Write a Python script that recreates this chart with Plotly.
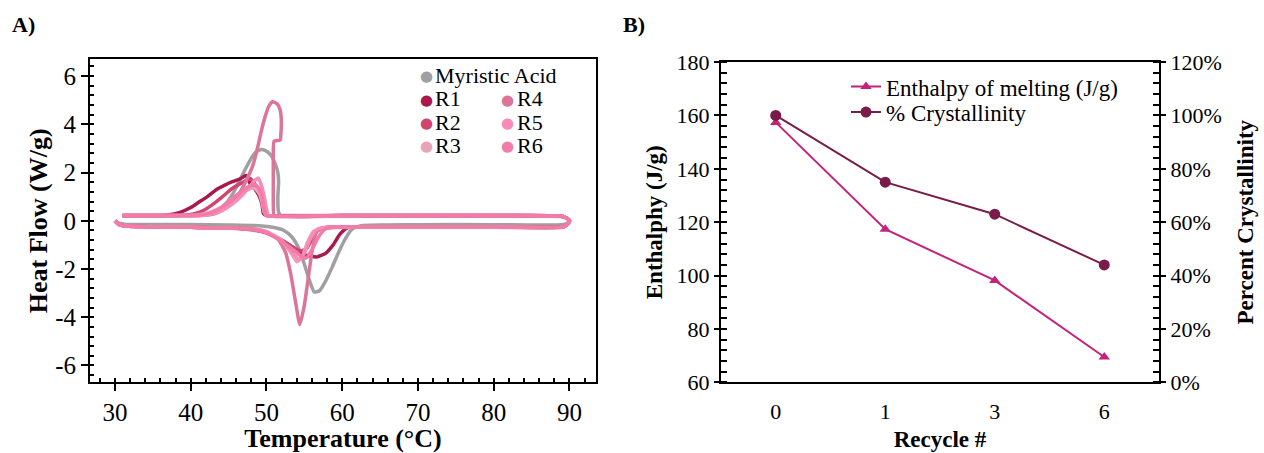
import plotly.graph_objects as go

W, H = 1264, 453

# ---------------- Panel A: DSC curves (heating then cooling) ----------------
MA_heat_T = [30.0, 30.5, 31.5, 35, 40, 45, 49, 51, 52.3, 53.3, 54.2, 55.0, 55.7, 56.3, 57.0, 57.8, 58.7, 59.6, 60.5, 61.3, 62.5, 70, 80, 89.0, 89.7, 90.0]
MA_heat_HF = [0.0, -0.1, -0.15, -0.15, -0.15, -0.17, -0.2, -0.28, -0.4, -0.65, -1.1, -1.8, -2.5, -2.95, -2.9, -2.5, -1.9, -1.25, -0.7, -0.35, -0.2, -0.16, -0.16, -0.16, -0.1, 0.0]
MA_cool_T = [89.6, 88.8, 80, 70, 60, 52.0, 51.6, 51.5, 51.6, 51.5, 51.1, 50.5, 49.8, 49.2, 48.6, 48.0, 47.3, 46.5, 45.6, 44.6, 43.6, 42.5, 40, 35, 31.0]
MA_cool_HF = [0.12, 0.18, 0.2, 0.2, 0.2, 0.2, 0.35, 1.0, 1.6, 2.0, 2.4, 2.75, 2.92, 2.95, 2.85, 2.6, 2.2, 1.7, 1.15, 0.7, 0.42, 0.27, 0.21, 0.2, 0.2]

R1_heat_T = [30.0, 30.5, 31.5, 35, 40, 45, 48, 50, 52, 53.5, 55, 56.6, 57.8, 58.8, 59.7, 60.6, 62, 70, 80, 89.2, 89.8, 90.0]
R1_heat_HF = [0.0, -0.15, -0.22, -0.25, -0.27, -0.3, -0.35, -0.5, -0.8, -1.1, -1.4, -1.5, -1.35, -1.0, -0.55, -0.3, -0.25, -0.25, -0.25, -0.25, -0.12, 0.0]
R1_cool_T = [89.6, 88.8, 80, 70, 60, 50.0, 49.6, 49.4, 49.0, 48.5, 47.9, 47.3, 46.6, 45.5, 44.5, 43.4, 42.2, 41.2, 40.0, 38.6, 37, 35, 31.0]
R1_cool_HF = [0.12, 0.2, 0.22, 0.22, 0.22, 0.22, 0.3, 0.7, 1.05, 1.3, 1.5, 1.88, 1.75, 1.62, 1.48, 1.3, 1.0, 0.8, 0.55, 0.35, 0.24, 0.22, 0.22]

R2_heat_T = [30.0, 30.5, 31.5, 35, 40, 45, 48, 50, 52, 53.5, 54.5, 55.3, 56.0, 56.8, 58, 65, 80, 89.2, 89.8, 90.0]
R2_heat_HF = [0.0, -0.15, -0.22, -0.25, -0.27, -0.3, -0.35, -0.5, -0.8, -1.1, -1.25, -1.15, -0.75, -0.4, -0.28, -0.25, -0.25, -0.25, -0.12, 0.0]
R2_cool_T = [89.6, 88.8, 80, 70, 60, 50.2, 49.8, 49.5, 49.0, 48.5, 47.9, 47.2, 46.3, 45.3, 44.2, 43.0, 41.8, 40.5, 39, 36, 31.0]
R2_cool_HF = [0.12, 0.2, 0.22, 0.22, 0.22, 0.22, 0.35, 0.8, 1.2, 1.5, 1.75, 1.65, 1.5, 1.3, 1.0, 0.7, 0.45, 0.3, 0.23, 0.22, 0.22]

R3_heat_T = [30.0, 30.5, 31.5, 35, 40, 45, 48, 50, 52, 53.2, 54.0, 54.7, 55.4, 56.2, 57.5, 65, 80, 89.2, 89.8, 90.0]
R3_heat_HF = [0.0, -0.15, -0.22, -0.25, -0.27, -0.3, -0.33, -0.45, -0.8, -1.3, -1.7, -1.5, -0.9, -0.45, -0.3, -0.27, -0.27, -0.27, -0.12, 0.0]
R3_cool_T = [89.6, 88.8, 80, 70, 60, 50.0, 49.7, 49.4, 49.0, 48.4, 47.6, 46.6, 45.5, 44.3, 43.0, 41.5, 39.5, 35, 31.0]
R3_cool_HF = [0.12, 0.2, 0.22, 0.22, 0.22, 0.22, 0.35, 0.8, 1.15, 1.35, 1.3, 1.1, 0.85, 0.6, 0.4, 0.27, 0.22, 0.22, 0.22]

R4_heat_T = [30.0, 30.5, 31.5, 35, 40, 45, 48, 50, 51.5, 52.5, 53.2, 53.8, 54.4, 55.0, 55.5, 56.0, 56.6, 57.5, 59, 65, 80, 89.2, 89.8, 90.0]
R4_heat_HF = [0.0, -0.15, -0.22, -0.25, -0.27, -0.3, -0.38, -0.5, -0.75, -1.3, -2.2, -3.3, -4.3, -3.5, -2.4, -1.3, -0.45, -0.3, -0.25, -0.25, -0.25, -0.25, -0.12, 0.0]
R4_cool_T = [89.6, 88.8, 80, 70, 60, 52, 51.0, 50.9, 50.9, 50.9, 51.0, 51.8, 51.9, 51.95, 51.8, 51.4, 50.8, 50.3, 49.8, 49.3, 48.8, 48.2, 47.5, 46.8, 46.2, 45.4, 44.6, 43.8, 43.0, 41, 35, 31.0]
R4_cool_HF = [0.12, 0.2, 0.22, 0.22, 0.22, 0.22, 0.22, 0.8, 1.8, 2.8, 3.3, 3.35, 3.6, 4.2, 4.6, 4.85, 4.94, 4.75, 4.3, 3.7, 3.0, 2.3, 1.78, 1.35, 1.03, 0.75, 0.55, 0.38, 0.28, 0.22, 0.22, 0.22]

R5_heat_T = [30.0, 30.5, 31.5, 35, 40, 45, 48, 50, 52, 53.3, 54.3, 55.0, 55.7, 56.5, 57.5, 65, 80, 89.2, 89.8, 90.0]
R5_heat_HF = [0.0, -0.15, -0.22, -0.25, -0.27, -0.3, -0.33, -0.45, -0.85, -1.3, -1.6, -1.35, -0.8, -0.4, -0.28, -0.25, -0.25, -0.25, -0.12, 0.0]
R5_cool_T = [89.6, 88.8, 80, 70, 60, 50.3, 50.0, 49.7, 49.3, 48.9, 48.4, 47.6, 46.6, 45.5, 44.3, 43.0, 41.5, 36, 31.0]
R5_cool_HF = [0.12, 0.2, 0.22, 0.22, 0.22, 0.22, 0.5, 1.0, 1.5, 1.78, 1.65, 1.35, 1.0, 0.7, 0.45, 0.3, 0.22, 0.22, 0.22]

R6_heat_T = [30.0, 30.5, 31.5, 35, 40, 45, 48, 50, 52, 53.5, 54.5, 55.2, 56.0, 56.8, 57.7, 59, 65, 80, 89.2, 89.8, 90.0]
R6_heat_HF = [0.0, -0.15, -0.22, -0.25, -0.27, -0.3, -0.33, -0.5, -0.85, -1.2, -1.45, -1.55, -1.2, -0.7, -0.35, -0.27, -0.25, -0.25, -0.25, -0.12, 0.0]
R6_cool_T = [89.6, 88.8, 80, 70, 60, 50.0, 49.7, 49.4, 49.0, 48.5, 47.9, 47.0, 46.0, 45.0, 43.8, 42.5, 41.0, 36, 31.0]
R6_cool_HF = [0.12, 0.2, 0.22, 0.22, 0.22, 0.22, 0.5, 1.0, 1.35, 1.5, 1.45, 1.3, 1.05, 0.8, 0.5, 0.32, 0.23, 0.22, 0.22]

A_names = ["Myristic Acid", "R1", "R2", "R3", "R4", "R5", "R6"]
A_colors = ["#a0a0a0", "#a8194d", "#d0446f", "#e8a3b8", "#dc7598", "#f88bb8", "#f47aa8"]
A_curves = [
    (MA_heat_T + MA_cool_T, MA_heat_HF + MA_cool_HF),
    (R1_heat_T + R1_cool_T, R1_heat_HF + R1_cool_HF),
    (R2_heat_T + R2_cool_T, R2_heat_HF + R2_cool_HF),
    (R3_heat_T + R3_cool_T, R3_heat_HF + R3_cool_HF),
    (R4_heat_T + R4_cool_T, R4_heat_HF + R4_cool_HF),
    (R5_heat_T + R5_cool_T, R5_heat_HF + R5_cool_HF),
    (R6_heat_T + R6_cool_T, R6_heat_HF + R6_cool_HF),
]
A_xticks = [30, 40, 50, 60, 70, 80, 90]
A_yticks = [-6, -4, -2, 0, 2, 4, 6]
A_yticktext = ["-6", "-4", "-2", "0", "2", "4", "6"]

# ---------------- Panel B ----------------
recycle = ["0", "1", "3", "6"]
enthalpy = [157.4, 117.4, 98.2, 69.5]
crystallinity = [100, 75, 63, 44]
B_yticks = [60, 80, 100, 120, 140, 160, 180]
B_y2ticks = [0, 20, 40, 60, 80, 100, 120]
B_y2ticktext = ["0%", "20%", "40%", "60%", "80%", "100%", "120%"]

SERIF = "Liberation Serif"

fig = go.Figure()

for (xs, ys), name, col in zip(A_curves, A_names, A_colors):
    fig.add_trace(go.Scatter(x=xs, y=ys, mode="lines", name=name,
                             line=dict(color=col, width=3.5, shape="spline", smoothing=0.5),
                             xaxis="x", yaxis="y", showlegend=False))

fig.add_trace(go.Scatter(x=recycle, y=enthalpy, mode="lines+markers",
                         name="Enthalpy of melting (J/g)", legend="legend",
                         line=dict(color="#c4237c", width=2),
                         marker=dict(symbol="triangle-up", size=10, color="#c4237c"),
                         xaxis="x2", yaxis="y2"))
fig.add_trace(go.Scatter(x=recycle, y=crystallinity, mode="lines+markers",
                         name="% Crystallinity", legend="legend2",
                         line=dict(color="#7a1c4a", width=2),
                         marker=dict(symbol="circle", size=11, color="#7a1c4a"),
                         xaxis="x2", yaxis="y3"))

def px(x):
    return x / W

def py(y):
    return 1 - y / H

TOP, BOT = 50, 392

axis_common = dict(showline=True, linecolor="black", linewidth=2, mirror=True,
                   showgrid=False, zeroline=False, tickcolor="black",
                   tickfont=dict(family=SERIF, size=25, color="black"))

leg_common = dict(xanchor="left", yanchor="middle", bgcolor="rgba(0,0,0,0)",
                  font=dict(family=SERIF, size=23, color="black"), itemwidth=30)

fig.update_layout(
    width=W, height=H,
    margin=dict(l=0, r=0, t=0, b=0),
    paper_bgcolor="white", plot_bgcolor="white",
    font=dict(family=SERIF, color="black"),
    xaxis=dict(**axis_common, domain=[px(90), px(596)], anchor="y",
               range=[26.7, 93.5], tickvals=A_xticks, ticks="outside", ticklen=7, tickwidth=2,
               ticklabelstandoff=0,
               minor=dict(dtick=2, ticks="inside", ticklen=4, tickwidth=1.5, tickcolor="black"),
               title=dict(text="<b>Temperature (°C)</b>", font=dict(family=SERIF, size=26), standoff=3)),
    yaxis=dict(**axis_common, domain=[py(BOT), py(TOP)], anchor="x",
               range=[-6.7, 6.7], tickvals=A_yticks, ticktext=A_yticktext,
               ticks="outside", ticklen=7, tickwidth=2,
               minor=dict(dtick=0.4, tick0=0, ticks="inside", ticklen=4, tickwidth=1.5, tickcolor="black"),
               title=dict(text="<b>Heat Flow (W/g)</b>", font=dict(family=SERIF, size=26), standoff=0)),
    xaxis2=dict(showline=True, linecolor="black", linewidth=2, mirror=True, showgrid=False,
                zeroline=False, domain=[px(721), px(1159)], anchor="y2", type="category",
                range=[-0.5, 3.5], ticks="", ticklabelstandoff=8,
                tickfont=dict(family=SERIF, size=22, color="black"),
                title=dict(text="<b>Recycle #</b>", font=dict(family=SERIF, size=23), standoff=8)),
    yaxis2=dict(showline=True, linecolor="black", linewidth=2, showgrid=False, zeroline=False,
                domain=[py(BOT), py(TOP + 3)], anchor="x2", range=[60, 180], tickvals=B_yticks,
                ticks="outside", ticklen=5, tickwidth=2, tickcolor="black",
                minor=dict(dtick=4, ticks="inside", ticklen=6, tickwidth=1.5, tickcolor="black"),
                tickfont=dict(family=SERIF, size=22, color="black"),
                title=dict(text="<b>Enthalphy (J/g)</b>", font=dict(family=SERIF, size=23), standoff=8)),
    yaxis3=dict(showline=True, linecolor="black", linewidth=2, showgrid=False, zeroline=False,
                overlaying="y2", side="right", anchor="x2", range=[0, 120],
                tickvals=B_y2ticks, ticktext=B_y2ticktext,
                ticks="outside", ticklen=5, tickwidth=2, tickcolor="black",
                minor=dict(dtick=4, ticks="inside", ticklen=6, tickwidth=1.5, tickcolor="black"),
                tickfont=dict(family=SERIF, size=22, color="black"),
                title=dict(text="<b>Percent Crystallinity</b>", font=dict(family=SERIF, size=23), standoff=16)),
    legend=dict(x=px(846), y=py(79), **leg_common),
    legend2=dict(x=px(846), y=py(106), **leg_common),
)

annotations = [
    dict(text="<b>A)</b>", x=px(10), y=py(13), xanchor="left", yanchor="middle",
         font=dict(family=SERIF, size=22, color="black")),
    dict(text="<b>B)</b>", x=px(621), y=py(13), xanchor="left", yanchor="middle",
         font=dict(family=SERIF, size=22, color="black")),
]
# Panel A legend (two columns, built as text)
leg_pos = [(426, 67), (426, 92), (426, 117), (426, 141), (508, 92), (508, 117), (508, 141)]
for (lx, ly), name, col in zip(leg_pos, A_names, A_colors):
    annotations.append(dict(text="●", x=px(lx), y=py(ly + 1), xanchor="center", yanchor="middle",
                            font=dict(family="DejaVu Sans", size=15, color=col)))
    annotations.append(dict(text=name, x=px(lx + 8), y=py(ly), xanchor="left", yanchor="middle",
                            borderpad=0, font=dict(family=SERIF, size=22, color="black")))
for a in annotations:
    a.update(xref="paper", yref="paper", showarrow=False)
fig.update_layout(annotations=annotations)

fig.write_html("out.html", config={"displayModeBar": False},
               post_script="document.body.style.margin='0';")
